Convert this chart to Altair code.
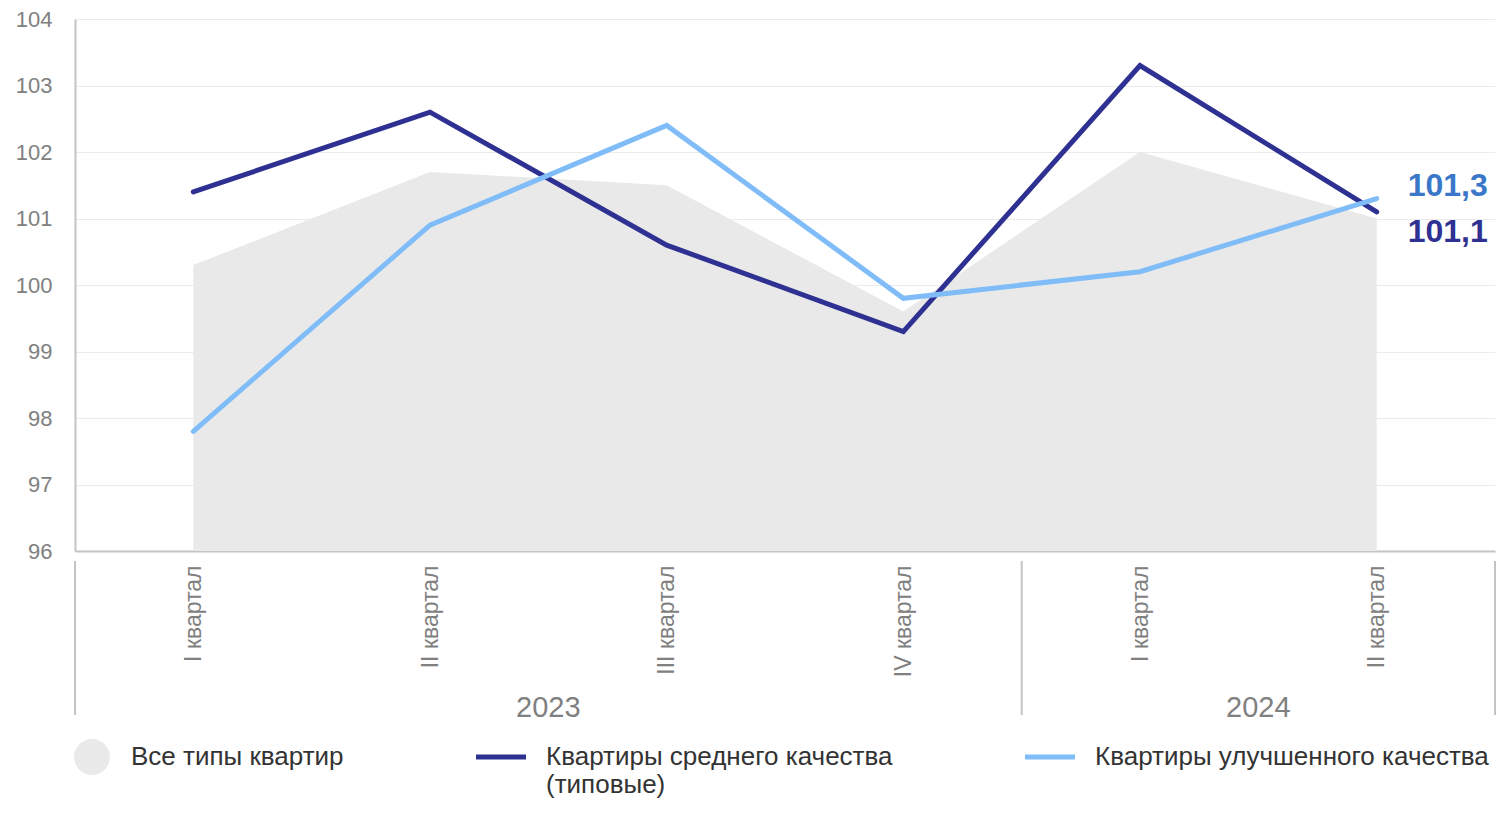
import altair as alt
import pandas as pd

# ---- data ----
keys = ["2023|I квартал", "2023|II квартал", "2023|III квартал", "2023|IV квартал",
        "2024|I квартал", "2024|II квартал"]
all_types = [100.3, 101.7, 101.5, 99.6, 102.0, 101.0]
standard = [101.4, 102.6, 100.6, 99.3, 103.3, 101.1]
improved = [97.8, 100.9, 102.4, 99.8, 100.2, 101.3]

series_names = ["Все типы квартир",
                "Квартиры среднего качества (типовые)",
                "Квартиры улучшенного качества"]
series_colors = ["#e9e9e9", "#2e3192", "#80bdf8"]
# legend symbols (unit coords): filled circle for the area, thin bar for the lines;
# the zero-length sub-paths only give every entry the same vertical extent
series_shapes = ["M-0.48,0A0.72,0.72 0 1,0 0.96,0A0.72,0.72 0 1,0 -0.48,0Z "
                 "M0.24,-0.8L0.24,-0.8 M0.24,1.68L0.24,1.68",
                 "M-1,-0.1H1V0.1H-1Z M0,-0.8L0,-0.8 M0,1.68L0,1.68",
                 "M-1,-0.1H1V0.1H-1Z M0,-0.8L0,-0.8 M0,1.68L0,1.68"]
end_label_colors = {"Квартиры среднего качества (типовые)": "#2e3192",
                    "Квартиры улучшенного качества": "#3a77c9"}
end_label_dy = {"Квартиры среднего качества (типовые)": 20,
                "Квартиры улучшенного качества": -13}

years = ["2023", "2024"]
year_start = [0, 4]
year_end = [4, 6]
y_ticks = list(range(96, 105))

FONT = "Liberation Sans"
W, H = 1420, 532
GRAY = "#808080"
AXIS_LINE = "#c4c4c4"

area_df = pd.DataFrame({"key": keys, "value": all_types})
rows = []
for name, vals in [(series_names[1], standard), (series_names[2], improved)]:
    for i, (k, v) in enumerate(zip(keys, vals)):
        rows.append({"key": k, "series": name, "value": v, "i": i})
lines_df = pd.DataFrame(rows)
sep_df = pd.DataFrame({"pos": sorted(set(year_start + year_end))})
year_df = pd.DataFrame({"year": years, "start": year_start, "end": year_end})

x_scale = alt.Scale(type="point", domain=keys, padding=0.5)
x_axis = alt.X("key:N", sort=keys, scale=x_scale,
               axis=alt.Axis(title=None, labelAngle=-90,
                             labelExpr="split(datum.label, '|')[1]",
                             labelFont=FONT, labelFontSize=23, labelColor=GRAY,
                             labelPadding=14, ticks=False, grid=False,
                             domainColor=AXIS_LINE, domainWidth=2))
x_plain = alt.X("key:N", sort=keys, scale=x_scale)
y_scale = alt.Scale(domain=[96, 104], nice=False, zero=False)
y_axis = alt.Y("value:Q", scale=y_scale,
               axis=alt.Axis(title=None, values=y_ticks, format="d", labelFont=FONT,
                             labelFontSize=22, labelColor=GRAY, labelPadding=23,
                             ticks=False, gridColor="#ebebeb", gridWidth=1,
                             domainColor=AXIS_LINE, domainWidth=2))
y_plain = alt.Y("value:Q", scale=y_scale)

color_scale = alt.Scale(domain=series_names, range=series_colors)
shape_scale = alt.Scale(domain=series_names, range=series_shapes)

legend = alt.Legend(
    title=None, orient="none", legendX=-14, legendY=713, direction="horizontal",
    labelFont=FONT, labelFontSize=26, labelColor="#333333", labelLimit=0,
    labelOffset=20, columnPadding=132, symbolSize=2500, symbolOpacity=1,
    symbolStrokeWidth=0, labelBaseline="middle", padding=0,
    labelExpr=("datum.label == 'Квартиры среднего качества (типовые)' ? "
               "['Квартиры среднего качества', '(типовые)'] : datum.label"),
)

# invisible points: they carry the legend (filled symbols from the shape scale)
legend_pts = alt.Chart(lines_df).mark_point(filled=True, opacity=0, size=0).encode(
    x=x_axis, y=y_axis,
    color=alt.Color("series:N", scale=color_scale, legend=legend),
    shape=alt.Shape("series:N", scale=shape_scale, legend=legend))

area = alt.Chart(area_df).mark_area(color="#e9e9e9", opacity=1).encode(
    x=x_plain, y=y_plain, y2=alt.datum(96))

lines = alt.Chart(lines_df).mark_line(strokeWidth=5, strokeCap="round").encode(
    x=x_plain, y=y_plain,
    color=alt.Color("series:N", scale=color_scale),
    order="i:Q")

end_layers = []
for name in series_names[1:]:
    end_layers.append(
        alt.Chart(lines_df).transform_filter(
            (alt.datum.series == name) & (alt.datum.key == keys[-1])
        ).transform_calculate(
            lbl="replace(format(datum.value, '.1f'), '.', ',')"
        ).mark_text(align="left", baseline="middle", dx=31, dy=end_label_dy[name],
                    font=FONT, fontSize=32, fontWeight="bold",
                    color=end_label_colors[name]).encode(
            x=x_plain, y=y_plain, text="lbl:N"))

main = alt.layer(legend_pts, area, lines, *end_layers)

idx_scale = alt.Scale(domain=[0, 6], nice=False, zero=False)
seps = alt.Chart(sep_df).mark_rule(color=AXIS_LINE, strokeWidth=2).encode(
    x=alt.X("pos:Q", scale=idx_scale, axis=None),
    y=alt.value(H + 10), y2=alt.value(H + 164))
year_text = alt.Chart(year_df).transform_calculate(
    mid="(datum.start + datum.end) / 2"
).mark_text(font=FONT, fontSize=29, color=GRAY, baseline="middle").encode(
    x=alt.X("mid:Q", scale=idx_scale, axis=None),
    y=alt.value(H + 157), text="year:N")
bottom = alt.layer(seps, year_text)

chart = alt.layer(main, bottom).resolve_scale(x="independent").properties(
    width=W, height=H,
    padding={"left": 7, "top": 0, "right": 0, "bottom": 0},
).configure_view(stroke=None)

chart.save("out.html", embed_options={"renderer": "svg", "actions": False})
